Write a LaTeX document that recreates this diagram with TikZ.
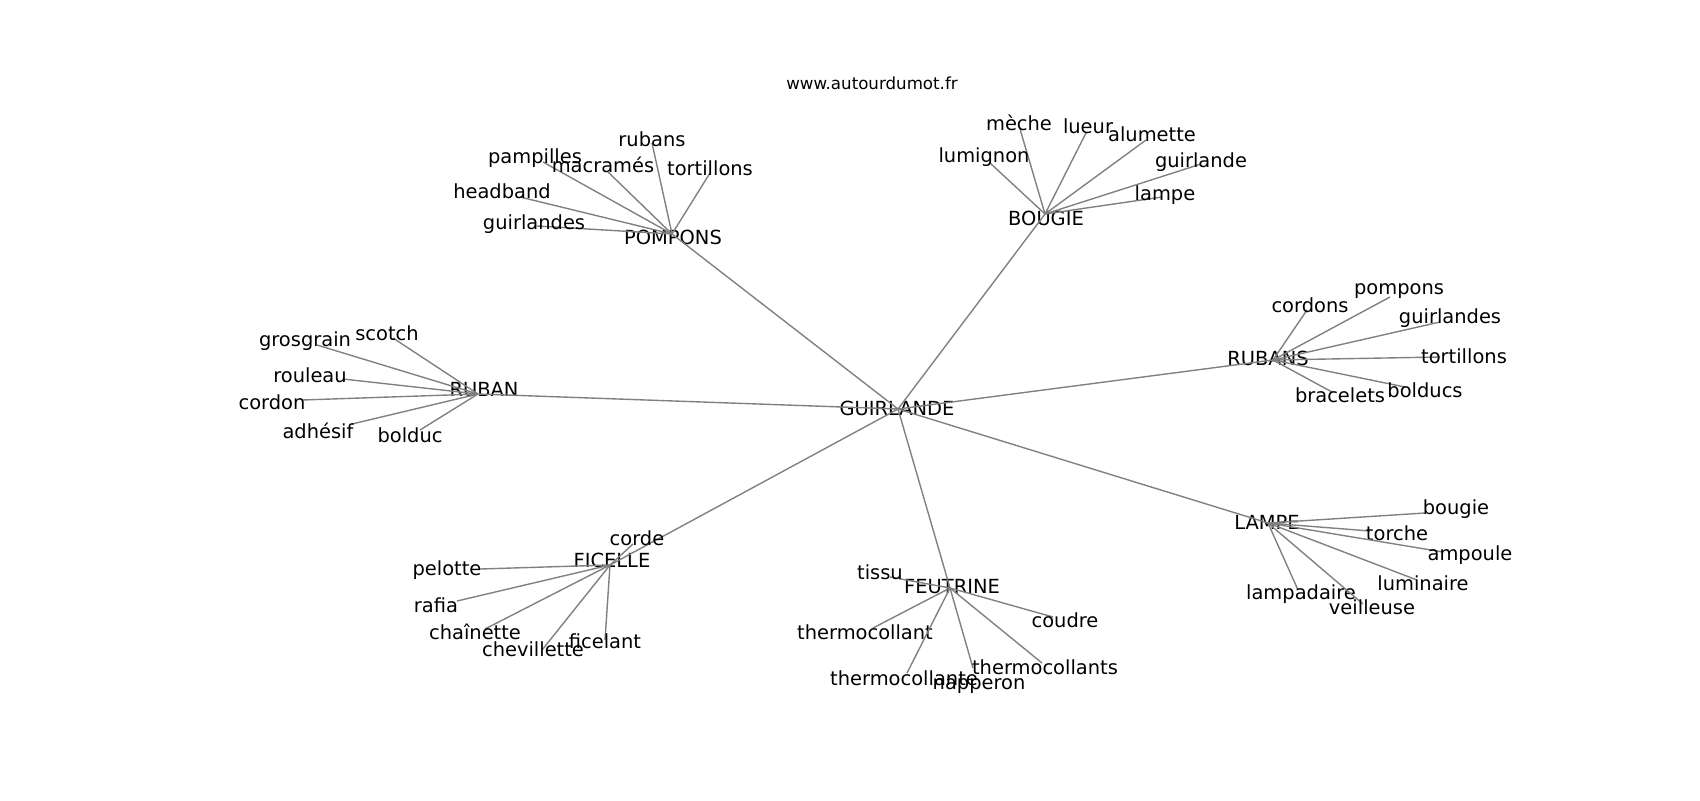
\documentclass[tikz,border=0pt]{standalone}
\usepackage{fontspec}
\setmainfont{DejaVu Sans}
\usetikzlibrary{positioning}

\begin{document}
\begin{tikzpicture}[x=0.72pt,y=-0.72pt,inner sep=0pt]
  \tikzstyle{w}=[font=\fontsize{14}{16}\selectfont]
  \tikzstyle{e}=[draw=gray,line width=1pt]
  \useasboundingbox(0,0)rectangle(1700,800);
  \node[font=\fontsize{12}{14}\selectfont](site)at(872,83){www.autourdumot.fr};
  % main words
  \foreach\n/\t/\px/\py/\lx/\ly in{guir/GUIRLANDE/898/409/897/408,pom/POMPONS/672/234/673/237,boug/BOUGIE/1045/214/1046/218,rbs/RUBANS/1273/360/1268/358,lamp/LAMPE/1268/523/1267/522,feut/FEUTRINE/950/588/952/587,fic/FICELLE/610/565/612/560,rub/RUBAN/478/394/484/390}{\coordinate(\n)at(\px,\py);\node[w](l-\n)at(\lx,\ly){\t};}
  \foreach\d in{pom,boug,rbs,lamp,feut,fic,rub}{\draw[e](guir)--(\d);}
  % leaves
  \foreach\h/\n/\t/\px/\py/\lx/\ly in{
    pom/pom-rubans/rubans/652/143/652/139,pom/pom-pampilles/pampilles/543/162/535/158,
    pom/pom-macrames/macramés/608/172/603/165,pom/pom-tortillons/tortillons/710/173/710/168,
    pom/pom-headband/headband/520/197/502/191,pom/pom-guirlandes/guirlandes/537/226/534/224,
    boug/boug-meche/mèche/1020/129/1019/123,boug/boug-lueur/lueur/1086/133/1088/126,
    boug/boug-alumette/alumette/1146/140/1152/134,boug/boug-lumignon/lumignon/990/163/984/157,
    boug/boug-guirlande/guirlande/1201/164/1201/162,boug/boug-lampe/lampe/1162/197/1165/195,
    rbs/rbs-cordons/cordons/1307/310/1310/305,rbs/rbs-pompons/pompons/1390/297/1399/291,
    rbs/rbs-guirlandes/guirlandes/1440/322/1450/318,rbs/rbs-tortillons/tortillons/1440/357/1464/356,
    rbs/rbs-bolducs/bolducs/1405/387/1425/390,rbs/rbs-bracelets/bracelets/1332/392/1340/395,
    lamp/lamp-bougie/bougie/1425/513/1456/509,lamp/lamp-torche/torche/1370/531/1397/533,
    lamp/lamp-ampoule/ampoule/1443/552/1470/555,lamp/lamp-luminaire/luminaire/1417/580/1423/583,
    lamp/lamp-lampadaire/lampadaire/1298/590/1301/594,lamp/lamp-veilleuse/veilleuse/1363/604/1372/607,
    feut/feut-tissu/tissu/890/577/880/572,feut/feut-coudre/coudre/1053/617/1065/620,
    feut/feut-thermocollant/thermocollant/873/628/865/632,feut/feut-thermocollante/thermocollante/907/673/904/678,
    feut/feut-napperon/napperon/973/668/979/686,feut/feut-thermocollants/thermocollants/1042/663/1045/667,
    fic/fic-corde/corde/633/544/637/538,fic/fic-pelotte/pelotte/480/569/447/570,
    fic/fic-rafia/rafia/457/601/436/605,fic/fic-chainette/chaînette/485/629/475/632,
    fic/fic-chevillette/chevillette/542/650/533/649,fic/fic-ficelant/ficelant/605/640/605/641,
    rub/rub-scotch/scotch/393/338/387/333,rub/rub-grosgrain/grosgrain/317/345/305/341,
    rub/rub-rouleau/rouleau/343/379/310/375,rub/rub-cordon/cordon/302/400/272/402,
    rub/rub-adhesif/adhésif/352/424/318/431,rub/rub-bolduc/bolduc/420/430/410/435}
    {\coordinate(\n)at(\px,\py);\draw[e](\h)--(\n);\node[w](l-\n)at(\lx,\ly){\t};}
\end{tikzpicture}
\end{document}
